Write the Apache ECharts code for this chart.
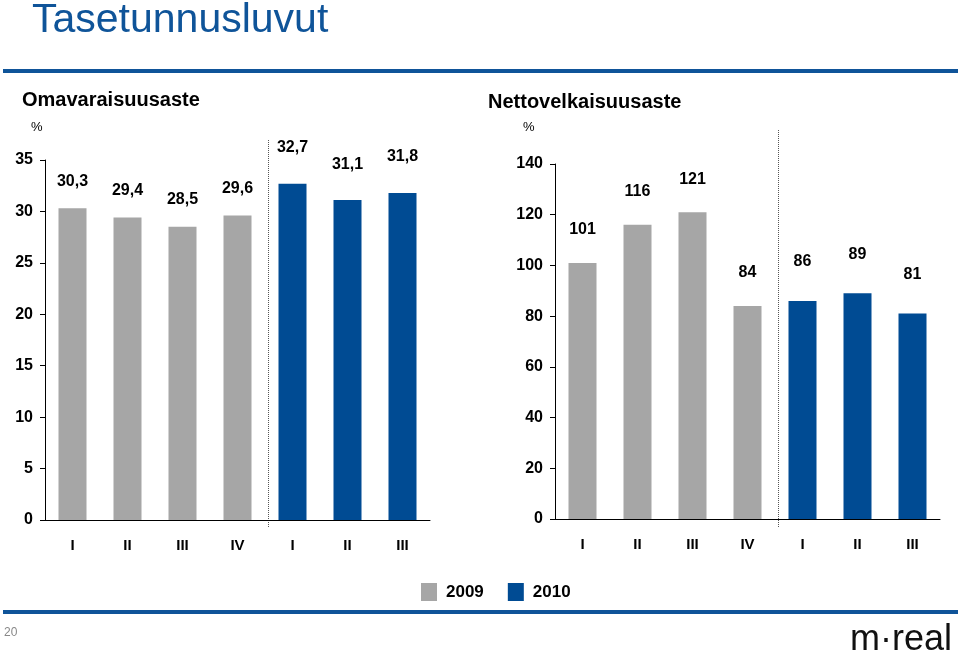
<!DOCTYPE html>
<html><head><meta charset="utf-8">
<script src="https://cdn.jsdelivr.net/npm/echarts@6/dist/echarts.min.js"></script>
<style>html,body{margin:0;padding:0;background:#fff}#c{width:960px;height:656px}</style>
</head><body><div id="c"></div>
<script>
const quarters = ['I','II','III','IV','I','II','III'];
const equity2009 = [30.3, 29.4, 28.5, 29.6, '-', '-', '-'];
const equity2010 = ['-', '-', '-', '-', 32.7, 31.1, 31.8];
const gearing2009 = [101, 116, 121, 84, '-', '-', '-'];
const gearing2010 = ['-', '-', '-', '-', 86, 89, 81];
const leftTicks = {min: 0, max: 35, interval: 5};
const rightTicks = {min: 0, max: 140, interval: 20};

const GRAY = '#a6a6a6', BLUE = '#004b93';
const FF = 'Liberation Sans, Arial, sans-serif';
const chart = echarts.init(document.getElementById('c'));

function fmt(v){ return String(v).replace('.', ','); }
function bar(name, data, xi, color, dist, decimals){
  return {
    name, type:'bar', data, xAxisIndex:xi, yAxisIndex:xi, barWidth:28, barGap:'-100%',
    itemStyle:{color}, animation:false,
    label:{show:true, position:'top', distance:dist, color:'#000', fontFamily:FF, fontSize:16, fontWeight:'bold',
      formatter: p => decimals ? fmt(p.value.toFixed(1)) : String(p.value)}
  };
}
function xAx(gi){
  return {type:'category', gridIndex:gi, data:quarters,
    axisLine:{lineStyle:{color:'#000', width:1}}, axisTick:{show:false},
    axisLabel:{color:'#000', fontFamily:FF, fontSize:15, fontWeight:'bold', margin:18}};
}
function yAx(gi, t){
  return {type:'value', gridIndex:gi, min:t.min, max:t.max, interval:t.interval,
    axisLine:{show:true, lineStyle:{color:'#000', width:1}},
    axisTick:{show:true, length:5, lineStyle:{color:'#000'}},
    splitLine:{show:false},
    axisLabel:{color:'#000', fontFamily:FF, fontSize:16, fontWeight:'bold', margin:12}};
}

const option = {
  backgroundColor:'#fff',
  animation:false,
  grid:[
    {left:45, right:530, top:160, bottom:136},
    {left:555, right:20, top:164, bottom:137}
  ],
  xAxis:[xAx(0), xAx(1)],
  yAxis:[yAx(0, leftTicks), yAx(1, rightTicks)],
  legend:{data:['2009','2010'], left:416, top:578, itemWidth:16, itemHeight:18, itemGap:24,
    icon:'rect', textStyle:{fontFamily:FF, fontSize:17, fontWeight:'bold', color:'#000', padding:[0,0,0,4]}},
  series:[
    bar('2009', equity2009, 0, GRAY, 19, true),
    bar('2010', equity2010, 0, BLUE, 28, true),
    bar('2009', gearing2009, 1, GRAY, 25, false),
    bar('2010', gearing2010, 1, BLUE, 31, false)
  ]
};
chart.setOption(option);

function sepX(gi){
  const a = chart.convertToPixel({xAxisIndex:gi}, 3);
  const b = chart.convertToPixel({xAxisIndex:gi}, 4);
  return Math.round((a+b)/2)+3.5;
}
const s0 = sepX(0), s1 = sepX(1);
chart.setOption({graphic:[
  {type:'text', left:32, top:0, style:{text:'Tasetunnusluvut', font:'41px '+FF, fill:'#0f5499'}},
  {type:'rect', shape:{x:3, y:69, width:955, height:4}, style:{fill:'#0f5499'}},
  {type:'rect', shape:{x:3, y:610, width:955, height:4}, style:{fill:'#0f5499'}},
  {type:'text', left:22, top:90, style:{text:'Omavaraisuusaste', font:'bold 20px '+FF, fill:'#000'}},
  {type:'text', left:31, top:121, style:{text:'%', font:'13px '+FF, fill:'#000'}},
  {type:'text', left:488, top:92, style:{text:'Nettovelkaisuusaste', font:'bold 20px '+FF, fill:'#000'}},
  {type:'text', left:523, top:121, style:{text:'%', font:'13px '+FF, fill:'#000'}},
  {type:'line', shape:{x1:s0, y1:140, x2:s0, y2:528}, style:{stroke:'#555', lineWidth:1, lineDash:[1,1]}},
  {type:'line', shape:{x1:s1, y1:130, x2:s1, y2:528}, style:{stroke:'#555', lineWidth:1, lineDash:[1,1]}},
  {type:'text', left:4, top:627, style:{text:'20', font:'12px '+FF, fill:'#888'}},
  {type:'text', left:850, top:622, style:{text:'m·real', font:'36px '+FF, fill:'#111'}}
]});
</script></body></html>
